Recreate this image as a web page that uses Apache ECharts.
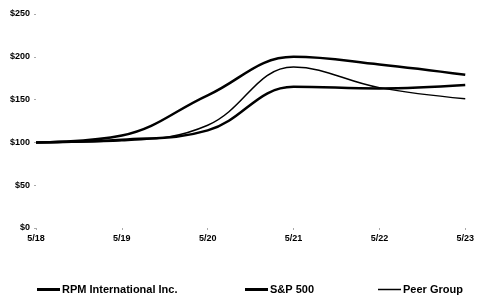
<!DOCTYPE html>
<html>
<head>
<meta charset="utf-8">
<script src="https://cdn.jsdelivr.net/npm/echarts@6/dist/echarts.min.js"></script>
<style>
  html, body { margin: 0; padding: 0; background: #fff; }
  #chart { width: 477px; height: 295px; }
</style>
</head>
<body>
<div id="chart"></div>
<script>
const years = ['5/18', '5/19', '5/20', '5/21', '5/22', '5/23']
const rpm = [100, 108, 155, 200, 191, 179]
const sp500 = [100, 103, 114, 165, 163, 167]
const peer = [100, 102, 120, 188, 164, 151]
const yTicks = [0, 50, 100, 150, 200, 250]

const chart = echarts.init(document.getElementById('chart'))

const font = { fontFamily: 'Liberation Sans, Arial, sans-serif', fontWeight: 'bold', fontSize: 9, color: '#000' }

function legendAt(name, left, h) {
  return {
    data: [name],
    left: left,
    top: 284,
    icon: 'rect',
    itemWidth: 23,
    itemHeight: h,
    itemGap: 0,
    padding: 0,
    textStyle: { ...font, fontSize: 11, padding: [0, 0, 0, -3] }
  }
}

chart.setOption({
  animation: false,
  grid: { left: 36, right: 8, top: 14, bottom: 67 },
  legend: [
    legendAt('RPM International Inc.', 37, 3),
    legendAt('S&P 500', 245, 3),
    legendAt('Peer Group', 378, 1.5)
  ],
  xAxis: {
    type: 'category',
    data: years,
    boundaryGap: false,
    axisLine: { show: false },
    axisTick: { show: true, length: 2, lineStyle: { color: '#aaa' } },
    axisLabel: { ...font, margin: 6 }
  },
  yAxis: {
    type: 'value',
    min: yTicks[0],
    max: yTicks[yTicks.length - 1],
    interval: 50,
    splitLine: { show: false },
    axisLine: { show: false },
    axisTick: { show: true, length: 2, lineStyle: { color: '#aaa' } },
    axisLabel: { ...font, margin: 6, formatter: v => '$' + v }
  },
  series: [
    {
      name: 'RPM International Inc.',
      type: 'line',
      data: rpm,
      smooth: 0.4,
      symbol: 'none',
      lineStyle: { width: 2.5, color: '#000' },
      itemStyle: { color: '#000' }
    },
    {
      name: 'S&P 500',
      type: 'line',
      data: sp500,
      smooth: 0.4,
      symbol: 'none',
      lineStyle: { width: 2.5, color: '#000' },
      itemStyle: { color: '#000' }
    },
    {
      name: 'Peer Group',
      type: 'line',
      data: peer,
      smooth: 0.4,
      symbol: 'none',
      lineStyle: { width: 1.5, color: '#000' },
      itemStyle: { color: '#000' }
    }
  ]
})
</script>
</body>
</html>
